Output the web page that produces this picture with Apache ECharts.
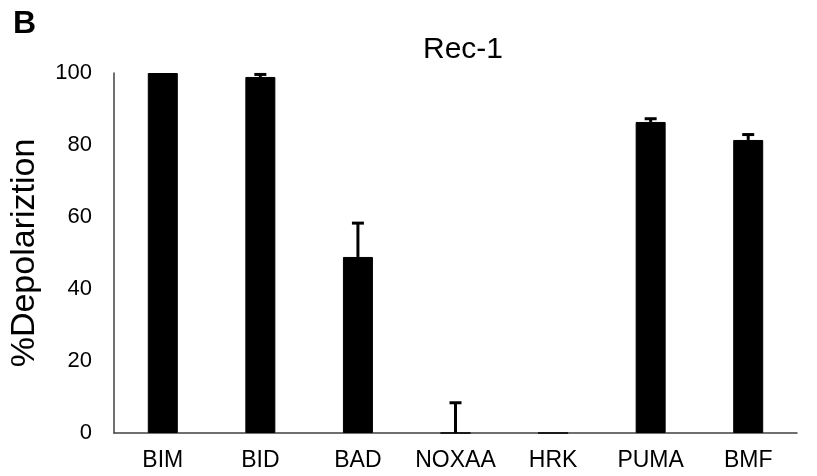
<!DOCTYPE html>
<html lang="en">
<head>
    <meta charset="UTF-8">
    <title>Rec-1</title>
    <script type="text/javascript" src="https://cdn.jsdelivr.net/npm/echarts@6/dist/echarts.min.js"></script>
</head>
<body style="margin:0;">
  <div id="main" style="width: 817px;height: 476px;"></div>
</body>
<script>
    // data
    var categories = ['BIM', 'BID', 'BAD', 'NOXAA', 'HRK', 'PUMA', 'BMF'];
    var values = [100, 98.9, 48.9, 0, 0, 86.4, 81.4];
    var errors = [0, 0.7, 9.4, 8.4, 0, 0.9, 1.5];
    var yTicks = [0, 20, 40, 60, 80, 100];

    var errData = [];
    for (var i = 0; i < categories.length; i++) {
        errData.push([i, values[i], values[i] + errors[i]]);
    }

    var myChart = echarts.init(document.getElementById('main'));
    var font = 'Liberation Sans, Arial, sans-serif';
    var option = {
        animation: false,
        backgroundColor: '#fff',
        title: [{
            text: 'Rec-1',
            left: 418,
            top: 30,
            textStyle: {fontFamily: font, fontSize: 30, fontWeight: 'normal', color: '#000'}
        }, {
            text: 'B',
            left: 8,
            top: 3,
            textStyle: {fontFamily: font, fontSize: 32, fontWeight: 'bold', color: '#000'}
        }],
        grid: {left: 114, right: 20, top: 73, bottom: 43},
        xAxis: {
            type: 'category',
            data: categories,
            axisLine: {lineStyle: {color: '#404040', width: 1.5}},
            axisTick: {show: false},
            axisLabel: {fontFamily: font, fontSize: 23, color: '#000', margin: 16, interval: 0, hideOverlap: false}
        },
        yAxis: {
            type: 'value',
            min: yTicks[0],
            max: yTicks[yTicks.length - 1],
            interval: 20,
            name: '%Depolariztion',
            nameLocation: 'middle',
            nameGap: 72,
            nameTextStyle: {fontFamily: font, fontSize: 34, color: '#000'},
            axisLine: {show: true, lineStyle: {color: '#404040', width: 1.5}},
            axisTick: {show: false},
            splitLine: {show: false},
            axisLabel: {fontFamily: font, fontSize: 22, color: '#000', margin: 22}
        },
        series: [{
            type: 'bar',
            data: values,
            barWidth: 30,
            itemStyle: {color: '#000', borderColor: '#000', borderWidth: 1}
        }, {
            type: 'custom',
            data: errData,
            z: 5,
            renderItem: function (params, api) {
                var idx = api.value(0);
                var lo = api.coord([idx, api.value(1)]);
                var hi = api.coord([idx, api.value(2)]);
                if (api.value(2) - api.value(1) <= 0) return;
                var half = 6;
                var style = {stroke: '#000', lineWidth: 3};
                return {
                    type: 'group',
                    children: [{
                        type: 'line',
                        shape: {x1: lo[0], y1: lo[1], x2: hi[0], y2: hi[1]},
                        style: style
                    }, {
                        type: 'line',
                        shape: {x1: hi[0] - half, y1: hi[1], x2: hi[0] + half, y2: hi[1]},
                        style: style
                    }]
                };
            }
        }]
    };
    myChart.setOption(option);
</script>
</html>
